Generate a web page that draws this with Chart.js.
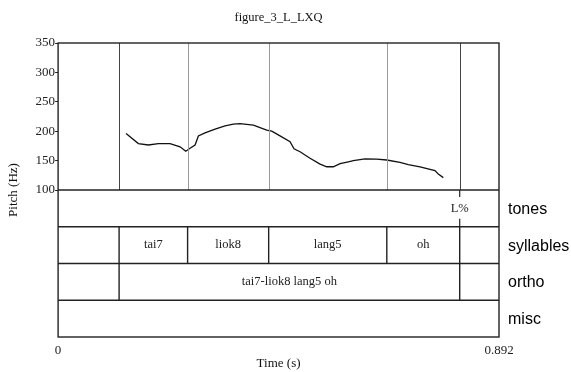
<!DOCTYPE html>
<html>
<head>
<meta charset="utf-8">
<script src="https://cdn.jsdelivr.net/npm/chart.js@4.4.1/dist/chart.umd.min.js"></script>
<style>
  html, body { margin: 0; padding: 0; background: #fff; }
  #wrap { width: 571px; height: 372px; }
</style>
</head>
<body>
<div id="wrap"><canvas id="c" width="571" height="372"></canvas></div>
<script>
// pitch track (time s, Hz)
const times = [0.1375, 0.1624, 0.1826, 0.2029, 0.2265, 0.2468, 0.2583, 0.267, 0.2771, 0.2838,
  0.2973, 0.3176, 0.3378, 0.3546, 0.3681, 0.395, 0.4221, 0.4322, 0.449, 0.4693,
  0.4773, 0.4895, 0.5097, 0.53, 0.5435, 0.5568, 0.5704, 0.5872, 0.5973, 0.621,
  0.6446, 0.6648, 0.6917, 0.7085, 0.7322, 0.7625, 0.7692, 0.7793];
const pitch = [196, 179, 176.5, 179, 179, 173.5, 166, 171, 176.5, 192,
  197, 203.5, 209, 212, 213, 210.5, 202, 200, 192, 182,
  170, 165, 154, 144, 139.5, 139.5, 145, 148, 150, 153,
  152.5, 151, 147, 143, 139.5, 133, 127, 121];

// annotation tiers
const tierNames = ['tones', 'syllables', 'ortho', 'misc'];
const toneTimes = [0.8125];
const toneLabels = ['L%'];
const syllBounds = [0.1234, 0.262, 0.426, 0.665, 0.8125];
const syllLabels = ['tai7', 'liok8', 'lang5', 'oh'];
const orthoBounds = [0.1234, 0.8125];
const orthoLabels = ['tai7-liok8 lang5 oh'];

const yTicks = [100, 150, 200, 250, 300, 350];
const xTicks = [0, 0.892];
const tMax = 0.892;
const pitchMin = 100, pitchMax = 350;
const tierHz = (pitchMax - pitchMin) / 4; // each tier as tall as a quarter of the pitch pane
const figTitle = 'figure_3_L_LXQ';

const SERIF = '"Liberation Serif", "Times New Roman", serif';
const SANS = '"Liberation Sans", Arial, sans-serif';

// draws the frame, the boundaries, the text tiers and the title
const tiersPlugin = {
  id: 'tiers',
  afterDatasetsDraw(chart) {
    const { ctx, chartArea: a, scales: { x, y } } = chart;
    const tierTop = i => y.getPixelForValue(pitchMin - i * tierHz);
    ctx.save();

    // boundaries in pitch pane
    syllBounds.forEach(t => {
      const px = Math.round(x.getPixelForValue(t)) + 0.5;
      const isWord = orthoBounds.includes(t);
      ctx.strokeStyle = isWord ? '#444' : '#9a9a9a';
      ctx.lineWidth = 1;
      ctx.beginPath(); ctx.moveTo(px, a.top); ctx.lineTo(px, tierTop(0)); ctx.stroke();
    });

    ctx.strokeStyle = '#222';
    ctx.lineWidth = 1.4;
    // horizontal tier lines
    for (let i = 0; i < tierNames.length; i++) {
      const py = tierTop(i);
      ctx.beginPath(); ctx.moveTo(a.left, py); ctx.lineTo(a.right, py); ctx.stroke();
    }
    // frame
    ctx.strokeRect(a.left, a.top, a.right - a.left, a.bottom - a.top);

    const vline = (t, y0, y1) => {
      const px = x.getPixelForValue(t);
      ctx.beginPath(); ctx.moveTo(px, y0); ctx.lineTo(px, y1); ctx.stroke();
    };

    ctx.fillStyle = '#222';
    ctx.textAlign = 'center';
    ctx.textBaseline = 'middle';
    ctx.font = '12.5px ' + SERIF;

    // tones (point tier)
    const t0 = tierTop(0), t1 = tierTop(1);
    toneTimes.forEach((t, i) => {
      ctx.lineWidth = 1.2;
      vline(t, t0, t0 + 7);
      vline(t, t1 - 8, t1);
      ctx.fillText(toneLabels[i], x.getPixelForValue(t), (t0 + t1) / 2);
    });

    // syllables
    const s0 = tierTop(1), s1 = tierTop(2);
    ctx.lineWidth = 1.4;
    syllBounds.forEach(t => vline(t, s0, s1));
    syllLabels.forEach((lab, i) => {
      const cx = (x.getPixelForValue(syllBounds[i]) + x.getPixelForValue(syllBounds[i + 1])) / 2;
      ctx.fillText(lab, cx, (s0 + s1) / 2);
    });

    // ortho
    const o0 = tierTop(2), o1 = tierTop(3);
    orthoBounds.forEach(t => vline(t, o0, o1));
    orthoLabels.forEach((lab, i) => {
      const cx = (x.getPixelForValue(orthoBounds[i]) + x.getPixelForValue(orthoBounds[i + 1])) / 2;
      ctx.fillText(lab, cx, (o0 + o1) / 2);
    });

    // tier names on the right
    ctx.fillStyle = '#000';
    ctx.textAlign = 'left';
    ctx.font = '16px ' + SANS;
    tierNames.forEach((n, i) => {
      ctx.fillText(n, a.right + 9, (tierTop(i) + tierTop(i + 1)) / 2 + 1);
    });

    // title, centred over the plot frame
    ctx.fillStyle = '#111';
    ctx.textAlign = 'center';
    ctx.font = '12.5px ' + SERIF;
    ctx.fillText(figTitle, (a.left + a.right) / 2, 18);
    ctx.restore();
  }
};

new Chart(document.getElementById('c'), {
  type: 'line',
  data: {
    datasets: [{
      data: times.map((t, i) => ({ x: t, y: pitch[i] })),
      borderColor: '#111',
      borderWidth: 1.3,
      pointRadius: 0,
      tension: 0,
      fill: false
    }]
  },
  options: {
    responsive: false,
    animation: false,
    events: [],
    layout: { padding: { top: 43, right: 72, bottom: 0, left: 6 } },
    plugins: {
      legend: { display: false },
      tooltip: { enabled: false },
      title: { display: false }
    },
    scales: {
      x: {
        type: 'linear',
        min: 0,
        max: tMax,
        afterBuildTicks: s => { s.ticks = xTicks.map(v => ({ value: v })); },
        afterFit: s => { s.height = 35; },
        grid: { display: false, drawTicks: false, tickLength: 0 },
        border: { display: false },
        ticks: {
          color: '#222',
          font: { family: SERIF, size: 13, lineHeight: 1 },
          maxRotation: 0,
          padding: 7,
          callback: v => String(v)
        },
        title: {
          display: true,
          text: 'Time (s)',
          color: '#111',
          font: { family: SERIF, size: 13, lineHeight: 1 },
          padding: { top: 0, bottom: 2 }
        }
      },
      y: {
        type: 'linear',
        min: pitchMin - 4 * tierHz,
        max: pitchMax,
        afterBuildTicks: s => { s.ticks = yTicks.map(v => ({ value: v })); },
        grid: { display: true, drawOnChartArea: false, drawTicks: true, tickLength: 3, color: '#222', lineWidth: 1 },
        border: { display: false },
        ticks: {
          color: '#222',
          font: { family: SERIF, size: 13 },
          padding: 0
        },
        title: {
          display: true,
          text: 'Pitch (Hz)',
          color: '#111',
          font: { family: SERIF, size: 13 },
          padding: { top: 0, bottom: 14 }
        }
      }
    }
  },
  plugins: [tiersPlugin]
});
</script>
</body>
</html>
